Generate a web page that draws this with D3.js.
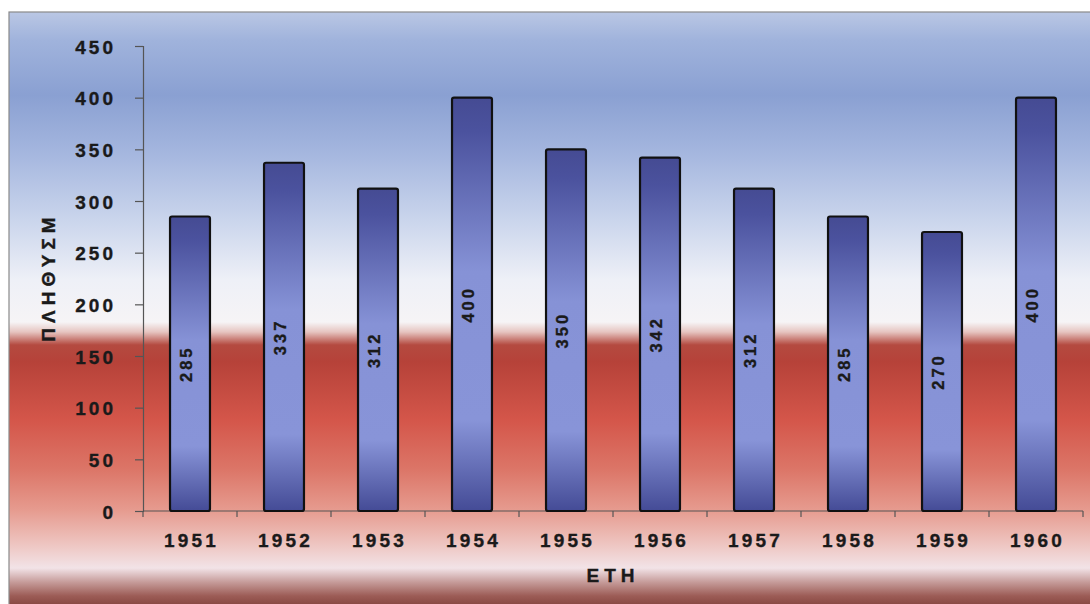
<!DOCTYPE html>
<html><head><meta charset="utf-8">
<script src="https://cdn.jsdelivr.net/npm/d3@7"></script>
<style>
html,body{margin:0;padding:0;background:#fff;}
svg{display:block;}
text{font-family:"Liberation Sans",Arial,sans-serif;font-weight:bold;fill:#1a1a1a;stroke:#1a1a1a;stroke-width:0.35px;}
</style></head>
<body>
<script>
// ---- data ----
const years = ["1951","1952","1953","1954","1955","1956","1957","1958","1959","1960"];
const population = [285, 337, 312, 400, 350, 342, 312, 285, 270, 400];
const yTicks = [0, 50, 100, 150, 200, 250, 300, 350, 400, 450];
const yTitle = "ΠΛΗΘΥΣΜ";
const xTitle = "ΕΤΗ";

const W = 1090, H = 604;
const svg = d3.select("body").append("svg").attr("width", W).attr("height", H);
const defs = svg.append("defs");

// background gradient (y positions in px)
const frame = {x: 9, y: 12, w: 1090, h: 600};
const bgStops = [
  [12, "#bac7e4"], [40, "#a0b3dc"], [95, "#8aa0d2"], [150, "#a3b5de"],
  [220, "#cad5ec"], [280, "#eef0f7"], [322, "#f6f4f6"], [332, "#e6c4c0"],
  [345, "#b44a40"], [362, "#b64239"], [420, "#d4564a"], [470, "#dc7668"],
  [510, "#e69b8f"], [545, "#eec6c2"], [568, "#f2e3e7"], [582, "#c69c9a"],
  [596, "#9c5c56"], [604, "#8a4a44"]
];
const bg = defs.append("linearGradient").attr("id", "bg")
  .attr("x1", 0).attr("y1", 0).attr("x2", 0).attr("y2", 1);
bgStops.forEach(([y, c]) => bg.append("stop")
  .attr("offset", ((y - frame.y) / frame.h * 100).toFixed(2) + "%").attr("stop-color", c));

const barGrad = defs.append("linearGradient").attr("id", "barg")
  .attr("x1", 0).attr("y1", 0).attr("x2", 0).attr("y2", 1);
[[0, "#454b93"], [0.08, "#4b529e"], [0.42, "#8692d6"], [0.78, "#8894d8"], [1, "#444b96"]]
  .forEach(([o, c]) => barGrad.append("stop").attr("offset", o).attr("stop-color", c));

svg.append("rect").attr("x", frame.x).attr("y", frame.y)
  .attr("width", frame.w).attr("height", frame.h)
  .attr("fill", "url(#bg)").attr("stroke", "#8a8a8a").attr("stroke-width", 1.2);

// scales
const plot = {left: 143, right: 1083, top: 46, bottom: 511};
const x = d3.scaleBand().domain(years).range([plot.left, plot.right]).paddingInner(0.575).paddingOuter(0.2875);
const y = d3.scaleLinear().domain([0, 450]).range([plot.bottom, plot.top]);

// y axis
const yAxis = svg.append("g").attr("transform", `translate(${plot.left},0)`)
  .call(d3.axisLeft(y).tickValues(yTicks).tickSize(8).tickPadding(19));
yAxis.select(".domain").attr("stroke", "#555").attr("stroke-width", 1.2);
yAxis.selectAll(".tick line").attr("stroke", "#555").attr("stroke-width", 1.2);
yAxis.selectAll(".tick text").style("font-size", "19px").style("letter-spacing", "3px")
  .attr("fill", "#1a1a1a").attr("dy", "0.37em");

// x axis: ticks at band boundaries
const xAxisG = svg.append("g").attr("transform", `translate(0,${plot.bottom})`);
xAxisG.append("line").attr("x1", plot.left).attr("x2", plot.right)
  .attr("stroke", "#555").attr("stroke-width", 1.2);
const step = x.step();
const bounds = d3.range(years.length + 1).map(i => plot.left + i * step);
xAxisG.selectAll("line.tk").data(bounds).join("line").attr("class", "tk")
  .attr("x1", d => d).attr("x2", d => d).attr("y1", 0).attr("y2", 6)
  .attr("stroke", "#555").attr("stroke-width", 1.2);
xAxisG.selectAll("text.lbl").data(years).join("text").attr("class", "lbl")
  .attr("x", d => x(d) + x.bandwidth() / 2 + 1.5).attr("y", 36)
  .attr("text-anchor", "middle").style("font-size", "19px").style("letter-spacing", "3.2px")
  .text(d => d);

// bars
const data = years.map((yr, i) => ({yr, v: population[i]}));
svg.append("g").selectAll("rect").data(data).join("rect")
  .attr("x", d => x(d.yr)).attr("y", d => y(d.v))
  .attr("width", x.bandwidth()).attr("height", d => y(0) - y(d.v))
  .attr("rx", 2).attr("fill", "url(#barg)")
  .attr("stroke", "#111").attr("stroke-width", 2.2);

// bar value labels (rotated)
svg.append("g").selectAll("text").data(data).join("text")
  .attr("transform", d => `translate(${x(d.yr) + x.bandwidth() / 2 + 1.5},${(y(d.v) + y(0)) / 2}) rotate(-90)`)
  .attr("text-anchor", "middle").style("font-size", "16.5px").style("letter-spacing", "3px")
  .text(d => d.v);

// axis titles
svg.append("text").attr("transform", `translate(55,277) rotate(-90)`)
  .attr("text-anchor", "middle").style("font-size", "19px").style("letter-spacing", "5px")
  .text(yTitle);
svg.append("text").attr("x", 613).attr("y", 582)
  .attr("text-anchor", "middle").style("font-size", "19px").style("letter-spacing", "5px")
  .text(xTitle);
</script>
</body></html>
